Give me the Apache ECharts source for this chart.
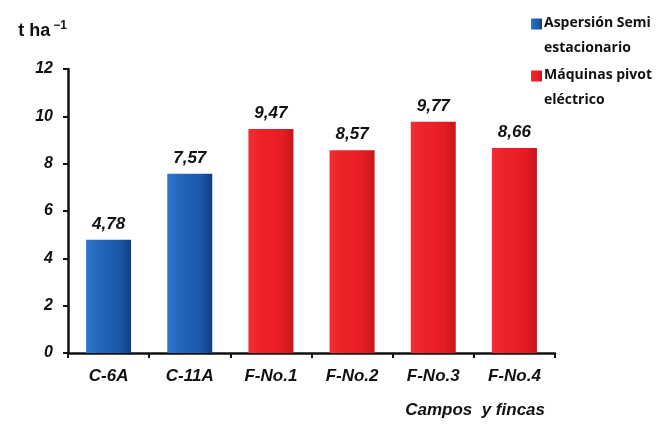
<!DOCTYPE html>
<html>
<head>
<meta charset="utf-8">
<script src="https://cdn.jsdelivr.net/npm/echarts@6/dist/echarts.min.js"></script>
<style>
  html, body { margin: 0; padding: 0; background: #ffffff; }
  #chart { width: 667px; height: 425px; }
</style>
</head>
<body>
<div id="chart"></div>
<script>
// Yield per field (t ha-1), grouped by irrigation system
const categories = ['C-6A', 'C-11A', 'F-No.1', 'F-No.2', 'F-No.3', 'F-No.4'];
const aspersionValues = [4.78, 7.57, null, null, null, null];
const pivotValues = [null, null, 9.47, 8.57, 9.77, 8.66];
const seriesNames = ['Aspersión Semi\nestacionario', 'Máquinas pivot\neléctrico'];
const yTicks = { min: 0, max: 12, interval: 2 };

const chart = echarts.init(document.getElementById('chart'));

const ARIAL = 'Liberation Sans, Arial, sans-serif';

const labelFont = {
  show: true,
  position: 'top',
  distance: 7,
  fontFamily: ARIAL,
  fontWeight: 'bold',
  fontStyle: 'italic',
  fontSize: 17,
  color: '#111',
  formatter: p => p.value == null ? '' : p.value.toFixed(2).replace('.', ',')
};

function barGradient(stops) {
  return new echarts.graphic.LinearGradient(0, 0, 1, 0,
    stops.map((c, i) => ({ offset: i / (stops.length - 1), color: c })));
}

// Legend marker: small square aligned with the first line of a two-line name
const legendMarker = 'path://M0,0L11,0L11,11L0,11Z M0,35L0.01,35L0.01,35.01L0,35.01Z';

chart.setOption({
  animation: false,
  backgroundColor: '#ffffff',
  grid: { left: 68, right: 112, top: 69, bottom: 72 },
  title: {
    text: 'Campos  y fincas',
    right: 122,
    top: 402,
    padding: 0,
    textStyle: {
      fontFamily: ARIAL,
      fontWeight: 'bold',
      fontStyle: 'italic',
      fontSize: 17,
      color: '#111'
    }
  },
  legend: {
    orient: 'vertical',
    left: 531,
    top: 11,
    padding: 0,
    itemWidth: 11,
    itemHeight: 35,
    itemGap: 2,
    icon: legendMarker,
    data: seriesNames,
    textStyle: {
      fontFamily: 'Open Sans, sans-serif',
      fontWeight: 'bold',
      fontSize: 14,
      color: '#111',
      lineHeight: 25,
      padding: [0, 0, 0, -3]
    }
  },
  xAxis: {
    type: 'category',
    data: categories,
    axisLine: { lineStyle: { color: '#111', width: 2.5 } },
    axisTick: { show: true, length: 5, lineStyle: { color: '#111', width: 2 } },
    axisLabel: {
      margin: 15,
      fontFamily: ARIAL,
      fontWeight: 'bold',
      fontStyle: 'italic',
      fontSize: 17,
      color: '#111'
    }
  },
  yAxis: {
    type: 'value',
    min: yTicks.min,
    max: yTicks.max,
    interval: yTicks.interval,
    name: 't ha{sup|−1}',
    nameLocation: 'end',
    nameGap: 27,
    nameTextStyle: {
      align: 'right',
      padding: [0, 1, 0, 0],
      fontFamily: ARIAL,
      fontWeight: 'bold',
      fontSize: 18,
      color: '#111',
      rich: {
        sup: {
          fontFamily: ARIAL,
          fontWeight: 'bold',
          fontSize: 12,
          color: '#111',
          verticalAlign: 'top',
          padding: [0, 0, 10, 3]
        }
      }
    },
    splitLine: { show: false },
    axisLine: { show: true, lineStyle: { color: '#111', width: 2.5 } },
    axisTick: { show: true, length: 5, lineStyle: { color: '#111', width: 2 } },
    axisLabel: {
      margin: 15,
      fontFamily: ARIAL,
      fontWeight: 'bold',
      fontStyle: 'italic',
      fontSize: 16,
      color: '#111'
    }
  },
  series: [
    {
      name: seriesNames[0],
      type: 'bar',
      data: aspersionValues,
      barWidth: 45,
      barGap: '-100%',
      itemStyle: {
        color: barGradient(['#2f78cc', '#2468bb', '#1f5fb2', '#1b57a8', '#103c85'])
      },
      label: labelFont
    },
    {
      name: seriesNames[1],
      type: 'bar',
      data: pivotValues,
      barWidth: 45,
      barGap: '-100%',
      itemStyle: {
        color: barGradient(['#ef3036', '#ee2229', '#ec1f26', '#e41c23', '#c9141b'])
      },
      label: labelFont
    }
  ]
});
</script>
</body>
</html>
